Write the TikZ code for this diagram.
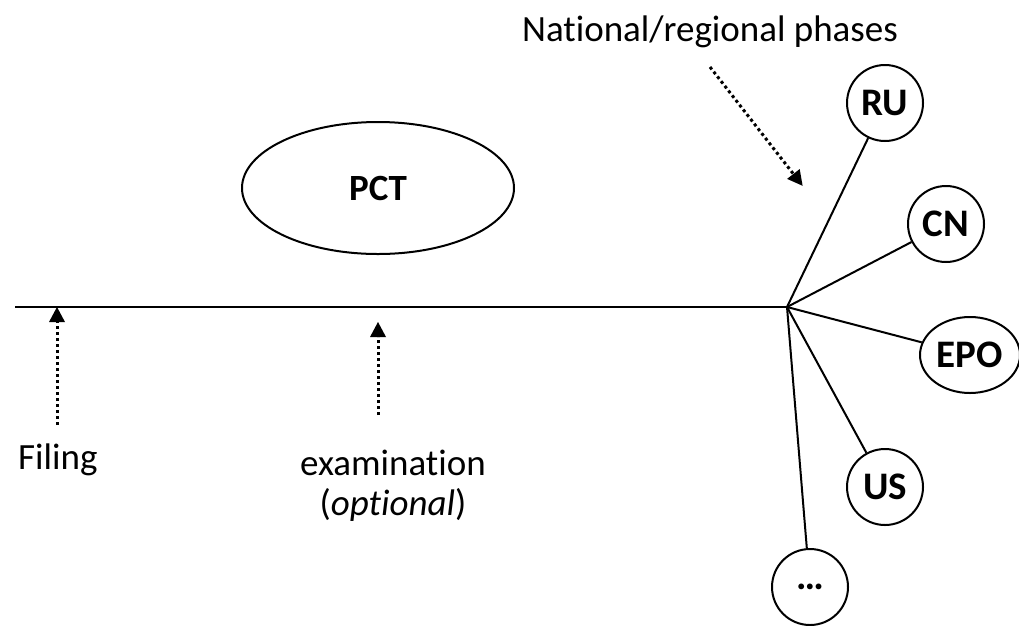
\documentclass[tikz,border=0pt]{standalone}
\usepackage{fontspec}
\setmainfont[Ligatures=CommonOff]{Carlito}
\usetikzlibrary{arrows.meta,shapes.geometric}
\begin{document}
\begin{tikzpicture}[x=1pt,y=-1pt,
  label text/.style={font=\fontsize{37}{40}\selectfont, inner sep=0pt},
  office/.style={draw, line width=2pt, circle, minimum size=76pt, inner sep=0pt,
    font=\fontsize{39}{42}\selectfont\bfseries},
  branch/.style={line width=2pt},
  pointer/.style={line width=3pt, dash pattern=on 3pt off 3pt,
    -{Triangle[length=15pt,width=16pt,line width=0pt]}, shorten >=-1pt}
]
\useasboundingbox (0,0) rectangle (1019,625);

% time line and the point where the national phases branch off
\coordinate (start) at (15,307);
\coordinate (hub) at (787,307);
\draw[line width=2pt] (start) -- (hub);

% international phase
\node[draw, line width=2pt, ellipse, minimum width=272pt, minimum height=132pt,
  font=\fontsize{37}{40}\selectfont\bfseries] (pct) at (378,188) {PCT};

% national/regional offices
\node[office] (ru) at (885,103) {RU};
\node[office] (cn) at (946,224) {CN};
\node[office, ellipse, minimum width=100pt, minimum height=76pt] (epo) at (970,355) {EPO};
\node[office] (us) at (885,487) {US};
\node[office] (more) at (810,587) {\raisebox{-5pt}{\ldots}};

\draw[branch] (hub) -- (ru);
\draw[branch] (hub) -- (cn);
\draw[branch] (hub) -- (epo);
\draw[branch] (hub) -- (us);
\draw[branch] (hub) -- (more);

% captions
\node[label text, anchor=base west] (filing) at (18,469) {Filing};
\node[label text, anchor=base] (exam) at (393,475) {examination};
\node[label text, anchor=base] (opt) at (393,515) {(\textit{optional})};
\node[label text] (nat) at (710,32) {National/regional phases};

% dotted pointers
\coordinate (filingtail) at (57,425);
\coordinate (filingtip) at (57,308);
\coordinate (examtail) at (378,415);
\coordinate (examtip) at (378,323);
\coordinate (nattail) at (710,67);
\coordinate (nattip) at (802,185);
\draw[pointer] (filingtail) -- (filingtip);
\draw[pointer] (examtail) -- (examtip);
\draw[pointer] (nattail) -- (nattip);
\end{tikzpicture}
\end{document}
